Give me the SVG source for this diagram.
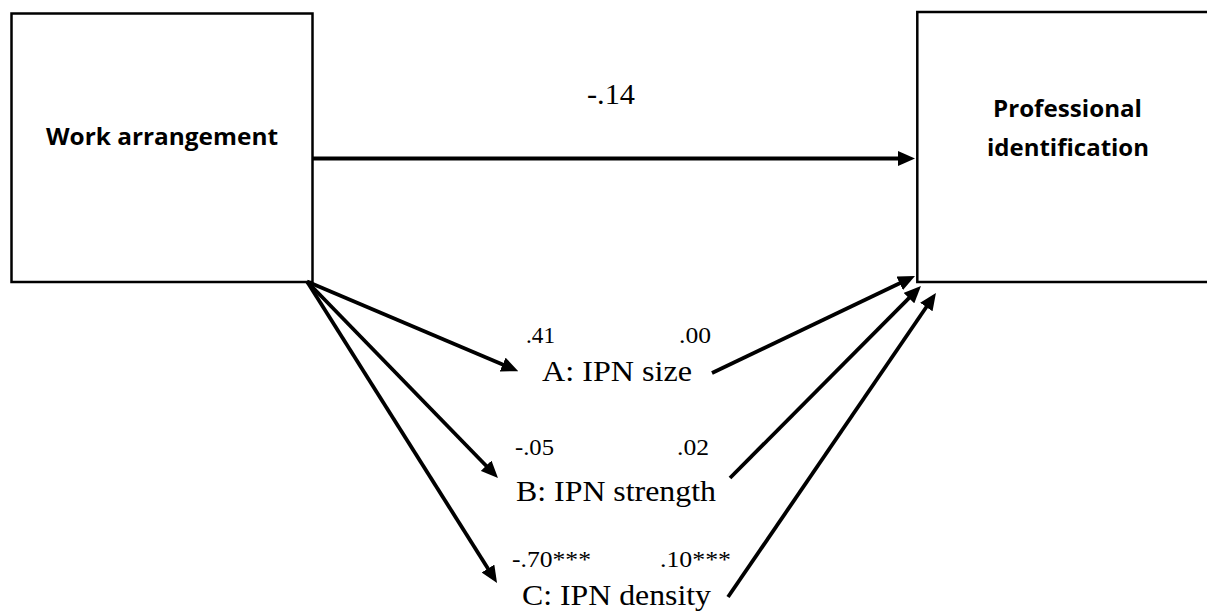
<svg xmlns="http://www.w3.org/2000/svg" width="1207" height="611" viewBox="0 0 1207 611">
  <style>
    .box { fill: #ffffff; stroke: #000000; stroke-width: 2.5; }
    .title { font-family: "Open Sans", "Liberation Sans", sans-serif; font-weight: bold; font-size: 23px; fill: #000000; }
    .label { font-family: "Liberation Serif", "Times New Roman", serif; font-size: 30px; fill: #000000; }
    .coef { font-family: "Liberation Serif", "Times New Roman", serif; font-size: 24px; fill: #000000; }
    .path { stroke: #000000; stroke-width: 3.8; fill: none; marker-end: url(#arrow); }
  </style>
  <defs>
    <!-- filled triangular head; tip sits 10 units beyond the line end -->
    <marker id="arrow" viewBox="0 0 17 15" refX="7" refY="7.5" markerWidth="17" markerHeight="15" markerUnits="userSpaceOnUse" orient="auto">
      <path d="M0,0 L17,7.5 L0,15 Z" fill="#000000"/>
    </marker>
  </defs>

  <rect width="1207" height="611" fill="#ffffff"/>

  <!-- predictor -->
  <g id="work-arrangement">
    <rect class="box" x="11.5" y="13.5" width="301" height="268.5"/>
    <text class="title" x="46" y="145" textLength="232" lengthAdjust="spacingAndGlyphs">Work arrangement</text>
  </g>

  <!-- outcome (runs off the right edge) -->
  <g id="professional-identification">
    <rect class="box" x="917.3" y="12" width="310" height="270"/>
    <text class="title" x="993" y="117" textLength="149" lengthAdjust="spacingAndGlyphs">Professional</text>
    <text class="title" x="987" y="156" textLength="162" lengthAdjust="spacingAndGlyphs">identification</text>
  </g>

  <!-- mediators -->
  <g id="ipn-size">
    <text class="label" x="542" y="381" textLength="150" lengthAdjust="spacingAndGlyphs">A: IPN size</text>
  </g>
  <g id="ipn-strength">
    <text class="label" x="516" y="501" textLength="200" lengthAdjust="spacingAndGlyphs">B: IPN strength</text>
  </g>
  <g id="ipn-density">
    <text class="label" x="522" y="605" textLength="189" lengthAdjust="spacingAndGlyphs">C: IPN density</text>
  </g>

  <!-- paths -->
  <g id="connectors">
    <line class="path" x1="313" y1="158.5" x2="905" y2="158.5"/>
    <line class="path" x1="307" y1="281.5" x2="509.1" y2="367.3"/>
    <line class="path" x1="307" y1="281.5" x2="491.0" y2="470.8"/>
    <line class="path" x1="307" y1="281.5" x2="491.7" y2="574.5"/>
    <line class="path" x1="712" y1="373" x2="906.0" y2="280.3"/>
    <line class="path" x1="730" y1="478" x2="913.9" y2="293.1"/>
    <line class="path" x1="728" y1="597" x2="930.3" y2="301.3"/>
  </g>

  <!-- path coefficients -->
  <g id="coefficients">
    <text class="label" x="587" y="104" font-size="28" textLength="48" lengthAdjust="spacingAndGlyphs">-.14</text>
    <text class="coef" x="526" y="343" textLength="29" lengthAdjust="spacingAndGlyphs">.41</text>
    <text class="coef" x="679" y="343" textLength="32" lengthAdjust="spacingAndGlyphs">.00</text>
    <text class="coef" x="515" y="455" textLength="39" lengthAdjust="spacingAndGlyphs">-.05</text>
    <text class="coef" x="677" y="455" textLength="32" lengthAdjust="spacingAndGlyphs">.02</text>
    <text class="coef" x="512" y="567" textLength="79" lengthAdjust="spacingAndGlyphs">-.70***</text>
    <text class="coef" x="660" y="567" textLength="71" lengthAdjust="spacingAndGlyphs">.10***</text>
  </g>
</svg>
